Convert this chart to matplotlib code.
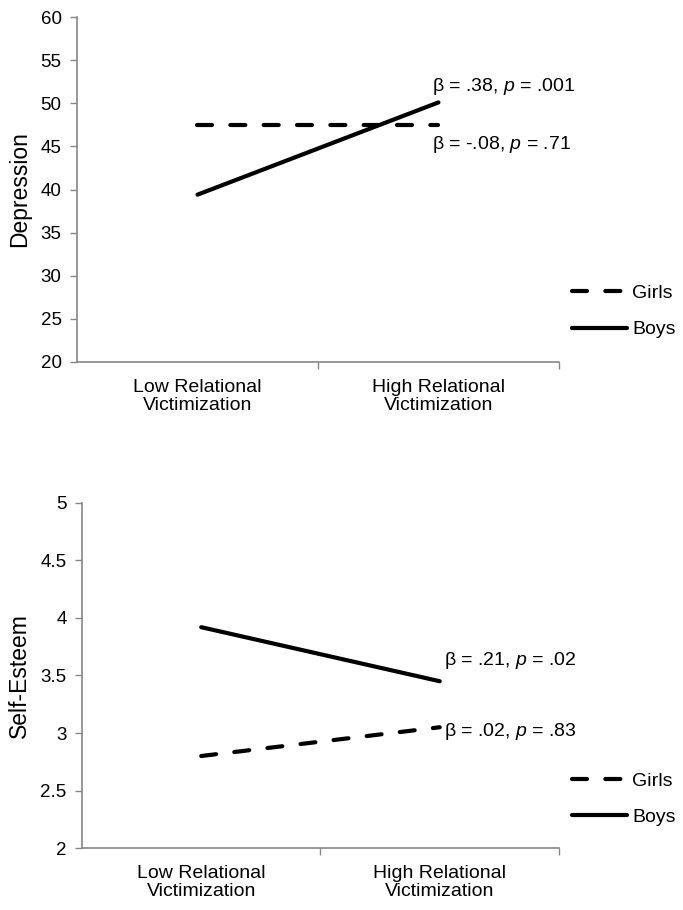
import matplotlib
matplotlib.use('Agg')
import matplotlib.pyplot as plt

# Data
categories = ['Low Relational\nVictimization', 'High Relational\nVictimization']
depression_girls = [47.5, 47.5]
depression_boys = [39.4, 50.1]
esteem_girls = [2.80, 3.05]
esteem_boys = [3.92, 3.45]

depression_ticks = [20, 25, 30, 35, 40, 45, 50, 55, 60]
esteem_ticks = [2, 2.5, 3, 3.5, 4, 4.5, 5]
esteem_ticklabels = ['2', '2.5', '3', '3.5', '4', '4.5', '5']

depression_notes = ['β = .38, $\\it{p}$ = .001', 'β = -.08, $\\it{p}$ = .71']
esteem_notes = ['β = .21, $\\it{p}$ = .02', 'β = .02, $\\it{p}$ = .83']

plt.rcParams['font.family'] = ['Liberation Sans', 'DejaVu Sans']
plt.rcParams['mathtext.fontset'] = 'custom'
plt.rcParams['mathtext.it'] = 'Liberation Sans:italic'
plt.rcParams['mathtext.rm'] = 'Liberation Sans'

GRAY = '#868686'
LW = 3.0
DASH = (3.6, 4.4)


def style_axes(ax, yticks, yticklabels, ylim, ylabel):
    x = range(len(categories))
    ax.set_xlim(-0.5, len(categories) - 0.5)
    ax.set_ylim(*ylim)
    ax.set_yticks(yticks)
    ax.set_yticklabels(yticklabels, fontsize=13.5)
    ax.set_xticks(list(x))
    ax.set_xticklabels(categories, fontsize=14, linespacing=1.1)
    ax.set_xticks([i + 0.5 for i in x], minor=True)
    ax.tick_params(axis='x', which='major', length=0, pad=12)
    ax.tick_params(axis='x', which='minor', length=5, color=GRAY, width=1)
    ax.tick_params(axis='y', length=5, color=GRAY, width=1, pad=6)
    for side in ['top', 'right']:
        ax.spines[side].set_visible(False)
    for side in ['left', 'bottom']:
        ax.spines[side].set_color(GRAY)
        ax.spines[side].set_linewidth(1.2)
    ax.set_ylabel(ylabel, fontsize=16.5, labelpad=7)


def draw_panel(fig, rect, girls, boys, yticks, yticklabels, ylim, ylabel, notes, note_pos, legend_y):
    ax = fig.add_axes(rect)
    x = list(range(len(categories)))
    g, = ax.plot(x, girls, color='black', lw=LW, linestyle=(0, DASH),
                 dash_capstyle='round', label='Girls', clip_on=False)
    b, = ax.plot(x, boys, color='black', lw=LW, solid_capstyle='round',
                 label='Boys', clip_on=False)
    style_axes(ax, yticks, yticklabels, ylim, ylabel)
    for txt, (tx, ty) in zip(notes, note_pos):
        ax.text(tx, ty, txt, fontsize=14, ha='left', va='center')
    fig.legend(handles=[g, b], loc='center left', bbox_to_anchor=(0.837, legend_y),
               frameon=False, fontsize=14, handlelength=2.85, handletextpad=0.25,
               labelspacing=0.95, borderpad=0, borderaxespad=0)
    return ax


fig = plt.figure(figsize=(6.83, 9.10), dpi=100)

draw_panel(fig, [0.1127, 0.6022, 0.7057, 0.3791], depression_girls, depression_boys,
           depression_ticks, [str(t) for t in depression_ticks], (20, 60), 'Depression',
           depression_notes, [(0.973, 51.9), (0.973, 45.2)], 0.6577)

draw_panel(fig, [0.1200, 0.0681, 0.6984, 0.3792], esteem_girls, esteem_boys,
           esteem_ticks, esteem_ticklabels, (2, 5), 'Self-Esteem',
           esteem_notes, [(1.018, 3.63), (1.018, 3.01)], 0.1222)

fig.savefig('out.png', dpi=100)
